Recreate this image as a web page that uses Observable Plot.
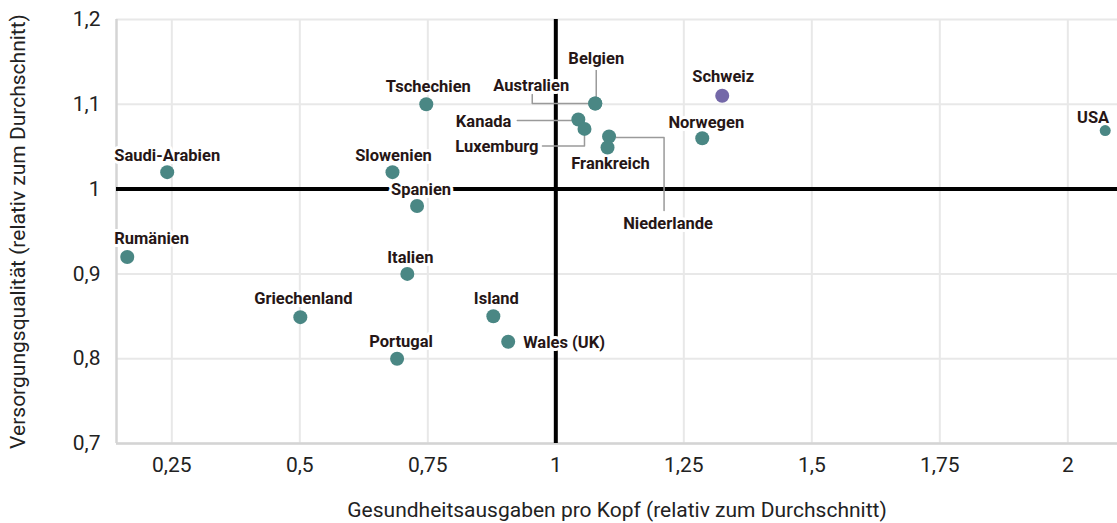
<!DOCTYPE html>
<html>
<head>
<meta charset="utf-8">
<script src="https://cdn.jsdelivr.net/npm/d3@7"></script>
<script src="https://cdn.jsdelivr.net/npm/@observablehq/plot@0.6"></script>
<style>
  html, body { margin: 0; padding: 0; background: #fff; }
  #chart svg { display: block; }
</style>
</head>
<body>
<div id="chart"></div>
<script>
// ---- Data ----
const countries = ["Saudi-Arabien","Rumänien","Griechenland","Portugal","Italien","Spanien","Slowenien","Tschechien","Island","Wales (UK)","Kanada","Luxemburg","Australien","Belgien","Niederlande","Frankreich","Norwegen","Schweiz","USA"];
const spending  = [0.241,0.163,0.501,0.690,0.710,0.729,0.681,0.747,0.878,0.907,1.044,1.056,1.077,1.077,1.104,1.101,1.286,1.325,2.073];
const quality   = [1.020,0.920,0.849,0.800,0.900,0.980,1.020,1.100,0.850,0.820,1.082,1.071,1.101,1.101,1.062,1.049,1.060,1.110,1.069];
const highlighted = ["Schweiz"];
const xTicks = [0.25,0.5,0.75,1,1.25,1.5,1.75,2];
const yTicks = [0.7,0.8,0.9,1,1.1,1.2];
const xTitle = "Gesundheitsausgaben pro Kopf (relativ zum Durchschnitt)";
const yTitle = "Versorgungsqualität (relativ zum Durchschnitt)";

// ---- Layout (styles / label placement in pixels) ----
const W = 1117, H = 523, mL = 116, mR = 0, mT = 19, mB = 80;
const xDomain = [0.142, 2.097];
const yDomain = [0.7, 1.2];
const labelLayout = {
  "Saudi-Arabien": {anchor:"middle", dx:0, dy:-16},
  "Rumänien":      {anchor:"start", dx:-13, dy:-18},
  "Griechenland":  {anchor:"middle", dx:3, dy:-18},
  "Portugal":      {anchor:"middle", dx:4, dy:-17},
  "Italien":       {anchor:"middle", dx:3, dy:-16},
  "Spanien":       {anchor:"middle", dx:4, dy:-16},
  "Slowenien":     {anchor:"middle", dx:1, dy:-16},
  "Tschechien":    {anchor:"middle", dx:2, dy:-18},
  "Island":        {anchor:"middle", dx:3, dy:-18},
  "Wales (UK)":    {anchor:"start", dx:15, dy:1},
  "Kanada":        {anchor:"end", dx:-67, dy:2, leader:[[-61,1],[-7,1]]},
  "Luxemburg":     {anchor:"end", dx:-46, dy:18, leader:[[-42,17],[0,17],[0,7]]},
  "Australien":    {anchor:"middle", dx:-64, dy:-18, leader:[[-63,-9],[-63,0],[-7,0]]},
  "Belgien":       {anchor:"middle", dx:1, dy:-45, leader:[[1,-35],[1,-7]]},
  "Niederlande":   {anchor:"middle", dx:59, dy:87, leader:[[7,1],[55,1],[55,74]]},
  "Frankreich":    {anchor:"middle", dx:3, dy:16},
  "Norwegen":      {anchor:"middle", dx:4, dy:-16},
  "Schweiz":       {anchor:"middle", dx:1, dy:-19},
  "USA":           {anchor:"end", dx:4, dy:-13}
};

const data = countries.map((name, i) => ({name, x: spending[i], y: quality[i]}));

// pixel offsets -> data units (for leader lines drawn through Plot's scales)
const kx = (xDomain[1] - xDomain[0]) / (W - mL - mR);
const ky = (yDomain[1] - yDomain[0]) / (H - mT - mB);
const leaders = [];
data.forEach(d => {
  const L = labelLayout[d.name];
  if (L && L.leader) L.leader.forEach(([ox, oy]) => leaders.push({name: d.name, x: d.x + ox * kx, y: d.y - oy * ky}));
});

const fmt = v => String(v).replace(".", ",");
const tickFont = "Roboto, 'Liberation Sans', sans-serif";

const labelMarks = data.map(d => {
  const L = labelLayout[d.name];
  return Plot.text([d], {
    x: "x", y: "y", text: "name",
    textAnchor: L.anchor, dx: L.dx, dy: L.dy,
    fontSize: 16.5, fontWeight: 700, fill: "#261616",
    stroke: "white", strokeWidth: 6, paintOrder: "stroke",
    fontFamily: "Roboto, sans-serif"
  });
});

const chart = Plot.plot({
  width: W, height: H,
  marginLeft: mL, marginRight: mR, marginTop: mT, marginBottom: mB,
  x: {domain: xDomain},
  y: {domain: yDomain},
  style: {fontFamily: tickFont, background: "white"},
  marks: [
    Plot.gridX(xTicks, {stroke: "#e8e8e8", strokeOpacity: 1, strokeWidth: 2}),
    Plot.gridY(yTicks, {stroke: "#e8e8e8", strokeOpacity: 1, strokeWidth: 2}),
    Plot.ruleX([xDomain[0]], {stroke: "#d4d4d4", strokeWidth: 2.5}),
    Plot.ruleY([yDomain[0]], {stroke: "#d4d4d4", strokeWidth: 2.5}),
    Plot.ruleX([1], {stroke: "#000", strokeWidth: 4}),
    Plot.ruleY([1], {stroke: "#000", strokeWidth: 4}),
    Plot.axisX(xTicks, {tickSize: 0, tickPadding: 14, tickFormat: fmt, fontSize: 21, fontWeight: 400, fill: "#222", label: null}),
    Plot.axisY(yTicks, {tickSize: 0, tickPadding: 16, tickFormat: fmt, fontSize: 21, fontWeight: 400, fill: "#222", label: null}),
    Plot.text([xTitle], {frameAnchor: "bottom", textAnchor: "middle", lineAnchor: "middle", dy: 67, fontSize: 21, fontWeight: 400, fill: "#222"}),
    Plot.text([yTitle], {frameAnchor: "left", textAnchor: "middle", lineAnchor: "middle", dx: -98, rotate: -90, fontSize: 21, fontWeight: 400, fill: "#222"}),
    Plot.line(leaders, {x: "x", y: "y", z: "name", stroke: "#9a9a9a", strokeWidth: 1.5}),
    ...labelMarks,
    Plot.dot(data, {
      x: "x", y: "y",
      r: d => d.name === "USA" ? 5.5 : 7,
      fill: d => highlighted.includes(d.name) ? "#7468a8" : "#4a8784"
    })
  ],
  r: {type: "identity"}
});
document.getElementById("chart").appendChild(chart);
</script>
</body>
</html>
